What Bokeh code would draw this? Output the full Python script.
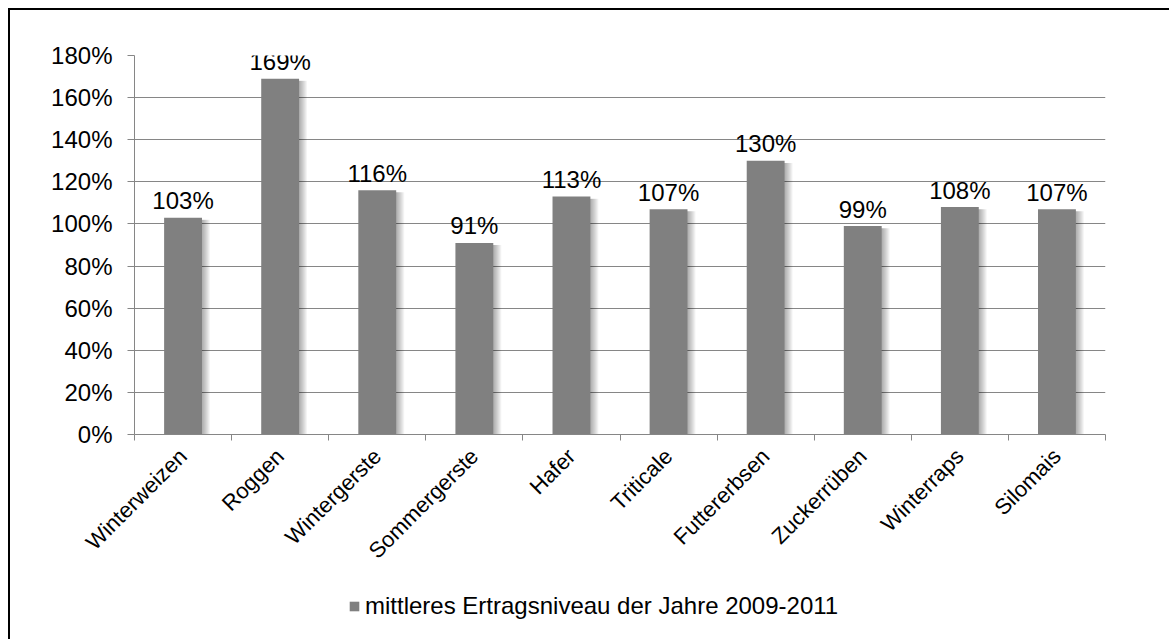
import math
from bokeh.plotting import figure
from bokeh.layouts import column
from bokeh.models import Range1d, FixedTicker, PrintfTickFormatter, Legend, LegendItem, ColumnDataSource
from bokeh.embed import file_html
from bokeh.resources import INLINE

categories = ["Winterweizen", "Roggen", "Wintergerste", "Sommergerste", "Hafer",
              "Triticale", "Futtererbsen", "Zuckerrüben", "Winterraps", "Silomais"]
values = [103, 169, 116, 91, 113, 107, 130, 99, 108, 107]
y_ticks = [0, 20, 40, 60, 80, 100, 120, 140, 160, 180]
series_name = "mittleres Ertragsniveau der Jahre 2009-2011"

FONT = "Liberation Sans"
BAR = "#808080"
GRID = "#868686"

xs = [i + 0.5 for i in range(len(categories))]
src = ColumnDataSource(dict(x=xs, top=values, lab=[f"{v}%" for v in values]))

p = figure(width=1159, height=570, output_backend="svg", toolbar_location=None,
           x_range=Range1d(0, len(categories)), y_range=Range1d(0, 180),
           min_border_left=124, min_border_right=64, min_border_top=45, min_border_bottom=146)
p.outline_line_color = None
p.background_fill_color = "white"
p.border_fill_color = "white"

# shadow layers
px = len(categories) / 971.0
for k in range(1, 9):
    p.vbar(x=[x + k * px for x in xs], top=[v - 1.0 for v in values], bottom=-2, width=0.39,
           fill_color="black", fill_alpha=0.045, line_color=None)

p.vbar(x="x", top="top", bottom=0, width=0.39, source=src, fill_color=BAR, line_color=None)

p.text(x="x", y="top", text="lab", source=src, y_offset=-17, text_align="center",
       text_baseline="alphabetic", text_font={"value": FONT}, text_font_size="24px", text_color="black")

# axes
p.xgrid.grid_line_color = None
p.ygrid.ticker = FixedTicker(ticks=y_ticks)
p.ygrid.grid_line_color = GRID
p.ygrid.grid_line_width = 1

ya = p.yaxis[0]
ya.ticker = FixedTicker(ticks=y_ticks)
ya.formatter = PrintfTickFormatter(format="%d%%")
ya.axis_line_color = GRID
ya.major_tick_line_color = GRID
ya.major_tick_out = 7
ya.major_tick_in = 0
ya.minor_tick_line_color = None
ya.major_label_standoff = 15
ya.major_label_text_font = FONT
ya.major_label_text_font_size = "24px"
ya.major_label_text_color = "black"

xa = p.xaxis[0]
xa.ticker = FixedTicker(ticks=xs, minor_ticks=list(range(len(categories) + 1)))
xa.major_label_overrides = {x: c for x, c in zip(xs, categories)}
xa.axis_line_color = GRID
xa.major_tick_line_color = None
xa.major_tick_out = 0
xa.major_tick_in = 0
xa.minor_tick_line_color = GRID
xa.minor_tick_out = 6
xa.minor_tick_in = 0
xa.major_label_orientation = math.pi / 4
xa.major_label_standoff = 12
xa.major_label_text_font = FONT
xa.major_label_text_font_size = "22px"
xa.major_label_text_color = "black"

# legend strip below the chart (same series; its bars lie below the strip's visible range)
p2 = figure(width=1159, height=59, output_backend="svg", toolbar_location=None,
            x_axis_location=None, y_axis_location=None,
            x_range=Range1d(0, len(categories)), y_range=Range1d(500, 501),
            min_border_left=0, min_border_right=0, min_border_top=0, min_border_bottom=0)
p2.outline_line_color = None
p2.background_fill_color = "white"
p2.border_fill_color = "white"
for g in p2.grid:
    g.visible = False
r2 = p2.vbar(x="x", top="top", bottom=0, width=0.39, source=src, fill_color=BAR, line_color=None)
legend = Legend(items=[LegendItem(label=series_name, renderers=[r2])],
                location=(214, 19), orientation="horizontal",
                glyph_width=12, glyph_height=12, label_standoff=5, padding=0, margin=0,
                border_line_color=None, background_fill_alpha=0,
                label_text_font=FONT, label_text_font_size="24px", label_text_color="black")
p2.add_layout(legend, "center")

layout = column(p, p2, spacing=0)
layout.styles = {"margin-left": "8px", "margin-top": "8px",
                 "border-top": "2px solid black", "border-left": "2px solid black"}

open("out.html", "w").write(file_html(layout, INLINE))
